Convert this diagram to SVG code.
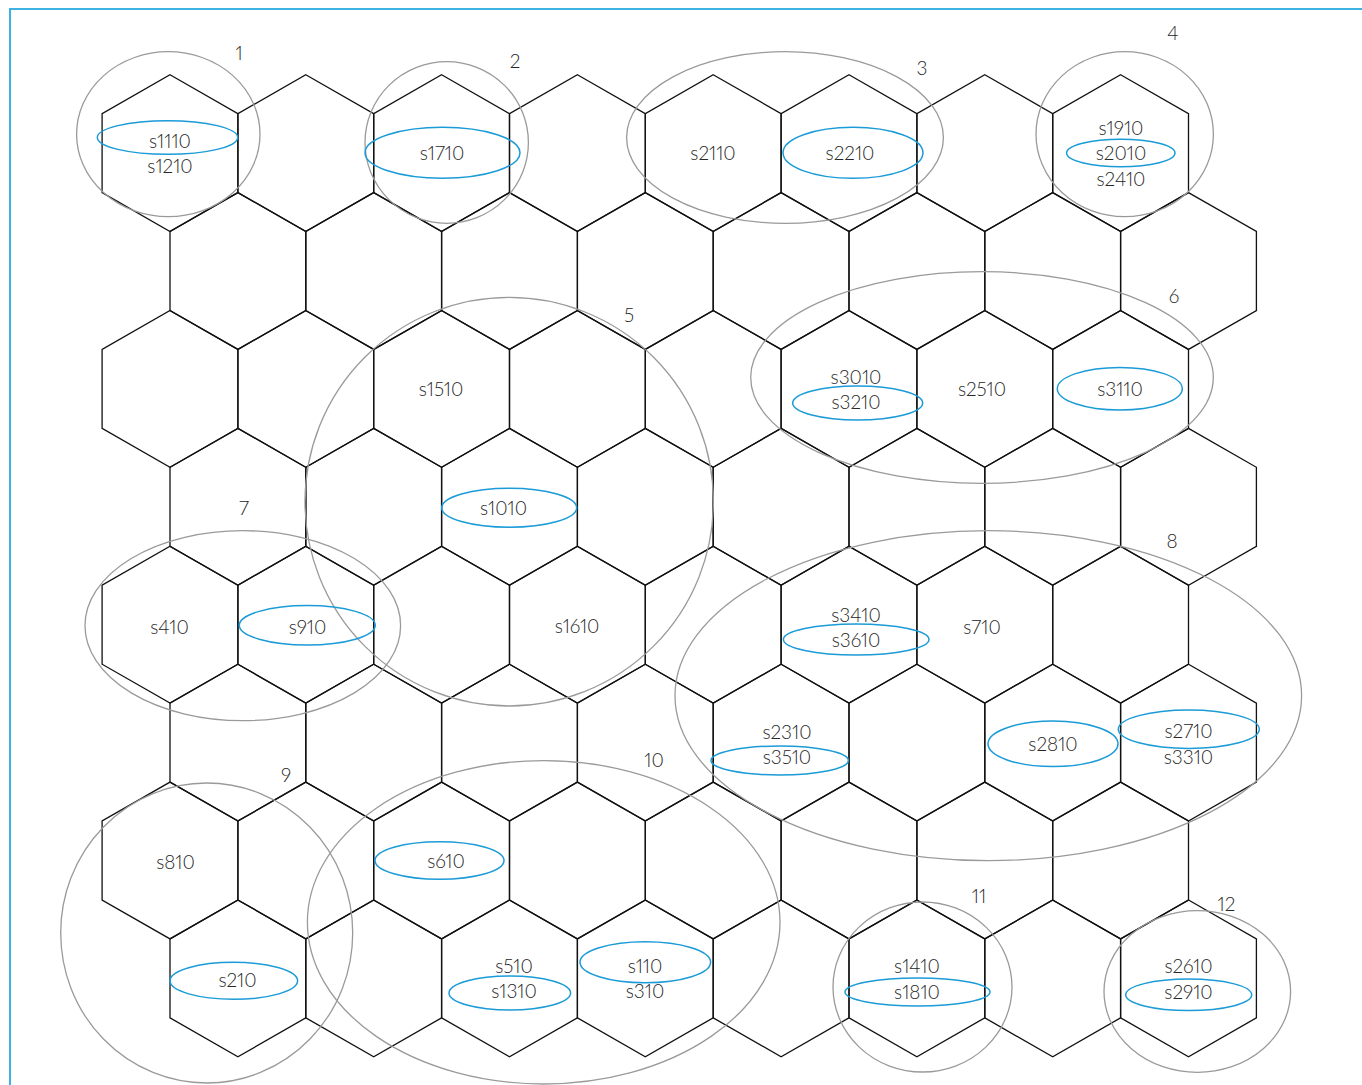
<svg xmlns="http://www.w3.org/2000/svg" width="1362" height="1085" viewBox="0 0 1362 1085">
<style>
.bg{fill:#fff}
.frame{fill:none;stroke:#2aaae0;stroke-width:1.8}
.hex{fill:none;stroke:#111;stroke-width:1.3;stroke-linejoin:miter}
.grp{fill:none;stroke:#9a9a9a;stroke-width:1.3}
.sel{fill:none;stroke:#1b9bd7;stroke-width:1.5}
text{font-family:Lato,"Open Sans","Liberation Sans",sans-serif;font-weight:300;font-size:19px;fill:#262626;text-anchor:middle;font-variant-numeric:proportional-nums}
</style>
<defs>
<polygon id="h" class="hex" points="0,-78.4 67.9,-39.5 67.9,39.5 0,78.4 -67.9,39.5 -67.9,-39.5"/>
</defs>
<rect class="bg" x="0" y="0" width="1362" height="1085"/>
<rect class="frame" x="10" y="9" width="1400" height="1100"/>
<g id="hex-grid">
<use href="#h" x="170" y="153.1"/><use href="#h" x="305.8" y="153.1"/><use href="#h" x="441.6" y="153.1"/><use href="#h" x="577.4" y="153.1"/><use href="#h" x="713.2" y="153.1"/><use href="#h" x="849" y="153.1"/><use href="#h" x="984.8" y="153.1"/><use href="#h" x="1120.6" y="153.1"/>
<use href="#h" x="237.9" y="271"/><use href="#h" x="373.7" y="271"/><use href="#h" x="509.5" y="271"/><use href="#h" x="645.3" y="271"/><use href="#h" x="781.1" y="271"/><use href="#h" x="916.9" y="271"/><use href="#h" x="1052.7" y="271"/><use href="#h" x="1188.5" y="271"/>
<use href="#h" x="170" y="388.9"/><use href="#h" x="305.8" y="388.9"/><use href="#h" x="441.6" y="388.9"/><use href="#h" x="577.4" y="388.9"/><use href="#h" x="713.2" y="388.9"/><use href="#h" x="849" y="388.9"/><use href="#h" x="984.8" y="388.9"/><use href="#h" x="1120.6" y="388.9"/>
<use href="#h" x="237.9" y="506.8"/><use href="#h" x="373.7" y="506.8"/><use href="#h" x="509.5" y="506.8"/><use href="#h" x="645.3" y="506.8"/><use href="#h" x="781.1" y="506.8"/><use href="#h" x="916.9" y="506.8"/><use href="#h" x="1052.7" y="506.8"/><use href="#h" x="1188.5" y="506.8"/>
<use href="#h" x="170" y="624.7"/><use href="#h" x="305.8" y="624.7"/><use href="#h" x="441.6" y="624.7"/><use href="#h" x="577.4" y="624.7"/><use href="#h" x="713.2" y="624.7"/><use href="#h" x="849" y="624.7"/><use href="#h" x="984.8" y="624.7"/><use href="#h" x="1120.6" y="624.7"/>
<use href="#h" x="237.9" y="742.6"/><use href="#h" x="373.7" y="742.6"/><use href="#h" x="509.5" y="742.6"/><use href="#h" x="645.3" y="742.6"/><use href="#h" x="781.1" y="742.6"/><use href="#h" x="916.9" y="742.6"/><use href="#h" x="1052.7" y="742.6"/><use href="#h" x="1188.5" y="742.6"/>
<use href="#h" x="170" y="860.5"/><use href="#h" x="305.8" y="860.5"/><use href="#h" x="441.6" y="860.5"/><use href="#h" x="577.4" y="860.5"/><use href="#h" x="713.2" y="860.5"/><use href="#h" x="849" y="860.5"/><use href="#h" x="984.8" y="860.5"/><use href="#h" x="1120.6" y="860.5"/>
<use href="#h" x="237.9" y="978.4"/><use href="#h" x="373.7" y="978.4"/><use href="#h" x="509.5" y="978.4"/><use href="#h" x="645.3" y="978.4"/><use href="#h" x="781.1" y="978.4"/><use href="#h" x="916.9" y="978.4"/><use href="#h" x="1052.7" y="978.4"/><use href="#h" x="1188.5" y="978.4"/>
</g>
<g id="connectors"/>
<g id="group-1">
<ellipse class="grp" cx="168.3" cy="134.2" rx="91.7" ry="82.5"/>
<text x="239" y="60.2">1</text>
<ellipse class="sel" cx="167.5" cy="137.5" rx="70.2" ry="16.8"/>
<text x="170" y="148.4">s1110</text>
<text x="170" y="173.4">s1210</text>
</g>
<g id="group-2">
<ellipse class="grp" cx="446.7" cy="142.5" rx="81.7" ry="80.8"/>
<text x="515" y="68.4">2</text>
<ellipse class="sel" cx="442.5" cy="152.8" rx="77.5" ry="25.5"/>
<text x="442" y="159.9">s1710</text>
</g>
<g id="group-3">
<ellipse class="grp" cx="785" cy="137.5" rx="158.4" ry="85.8"/>
<text x="922" y="74.9">3</text>
<text x="713" y="159.9">s2110</text>
<ellipse class="sel" cx="853" cy="152.8" rx="70" ry="25.5"/>
<text x="850" y="159.9">s2210</text>
</g>
<g id="group-4">
<ellipse class="grp" cx="1124.7" cy="134.2" rx="88.7" ry="82.5"/>
<text x="1173" y="39.9">4</text>
<text x="1121" y="134.9">s1910</text>
<ellipse class="sel" cx="1120.8" cy="153" rx="54.2" ry="13.7"/>
<text x="1121" y="160.2">s2010</text>
<text x="1121" y="185.9">s2410</text>
</g>
<g id="group-5">
<ellipse class="grp" cx="509.2" cy="501.7" rx="204.2" ry="204.3"/>
<text x="629" y="321.9">5</text>
<text x="441" y="395.9">s1510</text>
<ellipse class="sel" cx="509.2" cy="507.8" rx="67.5" ry="19.5"/>
<text x="503.5" y="514.9">s1010</text>
<text x="577" y="633.4">s1610</text>
</g>
<g id="group-6">
<ellipse class="grp" cx="982" cy="377.5" rx="231.3" ry="105.8"/>
<text x="1174" y="302.9">6</text>
<text x="856" y="383.9">s3010</text>
<ellipse class="sel" cx="857.7" cy="403" rx="65" ry="17"/>
<text x="856" y="409.4">s3210</text>
<text x="982" y="395.9">s2510</text>
<ellipse class="sel" cx="1119.8" cy="388.7" rx="62.5" ry="21.3"/>
<text x="1120" y="395.9">s3110</text>
</g>
<g id="group-7">
<ellipse class="grp" cx="242.8" cy="625.7" rx="157.8" ry="95"/>
<text x="244" y="514.9">7</text>
<text x="169.5" y="633.9">s410</text>
<ellipse class="sel" cx="307.3" cy="625.3" rx="68" ry="19.7"/>
<text x="307.5" y="633.9">s910</text>
</g>
<g id="group-8">
<ellipse class="grp" cx="988.3" cy="695.7" rx="313.3" ry="165"/>
<text x="1172" y="547.9">8</text>
<text x="856" y="621.9">s3410</text>
<ellipse class="sel" cx="856.2" cy="639.5" rx="72.8" ry="15.5"/>
<text x="856" y="646.9">s3610</text>
<text x="982" y="633.9">s710</text>
<text x="787" y="738.9">s2310</text>
<ellipse class="sel" cx="779.7" cy="760.5" rx="68.7" ry="14.5"/>
<text x="787" y="764.4">s3510</text>
<ellipse class="sel" cx="1053" cy="743.8" rx="65" ry="22.8"/>
<text x="1053" y="750.9">s2810</text>
<ellipse class="sel" cx="1188.8" cy="729.2" rx="70.5" ry="19.2"/>
<text x="1188.5" y="738.4">s2710</text>
<text x="1188.5" y="763.9">s3310</text>
</g>
<g id="group-9">
<ellipse class="grp" cx="206.7" cy="933" rx="146" ry="150"/>
<text x="286" y="781.9">9</text>
<text x="175.5" y="869.4">s810</text>
<ellipse class="sel" cx="233.8" cy="980.8" rx="63.8" ry="18.5"/>
<text x="237.5" y="986.9">s210</text>
</g>
<g id="group-10">
<ellipse class="grp" cx="543.7" cy="922.3" rx="236.3" ry="161.7"/>
<text x="654" y="766.9">10</text>
<ellipse class="sel" cx="439.5" cy="860.5" rx="64.5" ry="18.8"/>
<text x="446" y="868.4">s610</text>
<text x="514" y="972.9">s510</text>
<ellipse class="sel" cx="509.8" cy="993" rx="60.8" ry="17"/>
<text x="514" y="998.4">s1310</text>
<ellipse class="sel" cx="645.3" cy="962.2" rx="65.3" ry="20.5"/>
<text x="645" y="972.9">s110</text>
<text x="645" y="998.4">s310</text>
</g>
<g id="group-11">
<ellipse class="grp" cx="922.5" cy="987" rx="89.5" ry="85"/>
<text x="979" y="902.9">11</text>
<text x="917" y="972.9">s1410</text>
<ellipse class="sel" cx="917.5" cy="992" rx="72.5" ry="14"/>
<text x="917" y="998.9">s1810</text>
</g>
<g id="group-12">
<ellipse class="grp" cx="1197.3" cy="991.5" rx="93.3" ry="80.8"/>
<text x="1226.5" y="910.9">12</text>
<text x="1188.5" y="973.4">s2610</text>
<ellipse class="sel" cx="1188.7" cy="994.8" rx="63" ry="15.8"/>
<text x="1188.5" y="999.4">s2910</text>
</g>
</svg>
